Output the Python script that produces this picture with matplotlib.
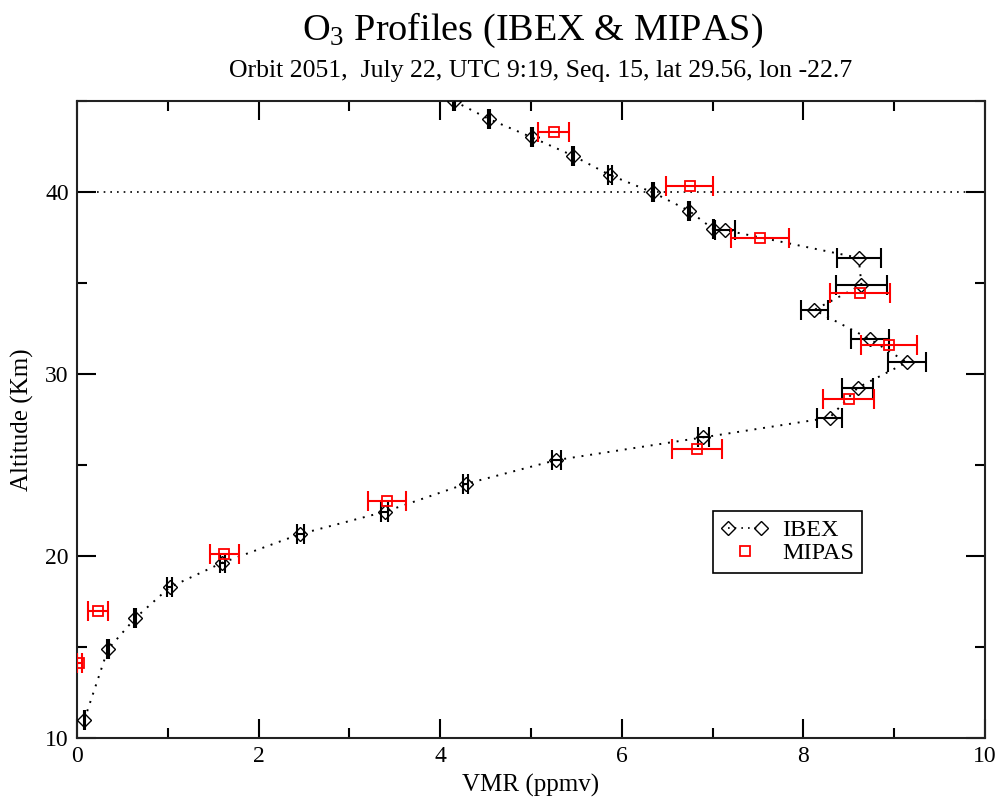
import matplotlib
matplotlib.use("Agg")
import matplotlib.pyplot as plt
from matplotlib.lines import Line2D
from matplotlib.legend_handler import HandlerLine2D

plt.rcParams['font.family'] = ['Liberation Serif', 'DejaVu Serif']
plt.rcParams['mathtext.fontset'] = 'custom'
plt.rcParams['mathtext.rm'] = 'Liberation Serif'
plt.rcParams['mathtext.default'] = 'regular'

# IBEX profile
ibex_vmr = [4.15, 4.54, 5.01, 5.46, 5.87, 6.34, 6.74, 7.01, 7.14, 8.61, 8.64, 8.12, 8.73,
            9.14, 8.60, 8.29, 6.90, 5.28, 4.28, 3.39, 2.46, 1.60, 1.02, 0.64, 0.34, 0.08]
ibex_alt = [45.0, 44.0, 43.0, 42.0, 40.93, 39.98, 38.97, 37.95, 37.9, 36.38, 34.89, 33.52, 31.92,
            30.64, 29.25, 27.6, 26.52, 25.27, 23.96, 22.43, 21.21, 19.63, 18.28, 16.58, 14.87, 10.99]
ibex_err = [0.01, 0.01, 0.01, 0.01, 0.02, 0.01, 0.01, 0.01, 0.11, 0.24, 0.28, 0.15, 0.21,
            0.21, 0.17, 0.14, 0.06, 0.05, 0.03, 0.04, 0.04, 0.03, 0.03, 0.01, 0.01, 0.005]

# MIPAS profile
mipas_vmr = [5.25, 6.75, 7.52, 8.62, 8.94, 8.50, 6.83, 3.41, 1.62, 0.23, 0.025]
mipas_alt = [43.27, 40.33, 37.49, 34.47, 31.59, 28.63, 25.88, 23.04, 20.09, 16.99, 14.1]
mipas_err = [0.17, 0.26, 0.32, 0.33, 0.31, 0.28, 0.275, 0.21, 0.16, 0.11, 0.03]

title = r'O$_3$ Profiles (IBEX & MIPAS)'
subtitle = 'Orbit 2051,  July 22, UTC 9:19, Seq. 15, lat 29.56, lon -22.7'
xlabel = 'VMR (ppmv)'
ylabel = 'Altitude (Km)'

fig = plt.figure(figsize=(10.04, 8.0), dpi=100)
ax = fig.add_axes([0.0767, 0.0775, 0.9043, 0.7963])

ax.axhline(40, color='black', linestyle=(0, (1, 3)), linewidth=1.2, zorder=1)

ax.errorbar(ibex_vmr, ibex_alt, xerr=ibex_err, fmt='none', ecolor='black',
            elinewidth=1.5, capsize=7, capthick=1.5, zorder=2)
ax.plot(ibex_vmr, ibex_alt, color='black', linestyle=(0, (1, 3.5)), linewidth=1.4,
        marker='D', markersize=7.5, markerfacecolor='none', markeredgecolor='black',
        markeredgewidth=1.0, zorder=3)

ax.errorbar(mipas_vmr, mipas_alt, xerr=mipas_err, fmt='none', ecolor='red',
            elinewidth=1.5, capsize=7, capthick=1.5, zorder=4)
ax.plot(mipas_vmr, mipas_alt, linestyle='none', marker='s', markersize=7.5,
        markerfacecolor='none', markeredgecolor='red', markeredgewidth=1.3, zorder=5)

ax.set_xlim(0, 10)
ax.set_ylim(10, 45)
ax.set_xticks([0, 2, 4, 6, 8, 10])
ax.set_xticks([1, 3, 5, 7, 9], minor=True)
ax.set_yticks([10, 20, 30, 40])
ax.set_yticks([15, 25, 35, 45], minor=True)
ax.tick_params(which='both', direction='in', top=True, right=True, width=1.5,
               labelsize=17, pad=6)
ax.tick_params(which='major', length=14)
ax.tick_params(which='minor', length=7)
for s in ax.spines.values():
    s.set_linewidth(1.5)
    s.set_color('#222222')

ax.set_xlabel(xlabel, fontsize=18, labelpad=5)
ax.set_ylabel(ylabel, fontsize=18, labelpad=8)

fig.text(0.53, 0.962, title, ha='center', va='center', fontsize=27.5)
fig.text(0.538, 0.911, subtitle, ha='center', va='center', fontsize=18.5)

h_ibex = Line2D([], [], color='black', linestyle=(0, (1, 3)), linewidth=1.2, marker='D',
                markersize=7, markerfacecolor='none', markeredgecolor='black')
h_mipas = Line2D([], [], linestyle='none', marker='s', markersize=7.5,
                 markerfacecolor='none', markeredgecolor='red', markeredgewidth=1.3)
leg = ax.legend([h_ibex, h_mipas], ['IBEX', 'MIPAS'], loc='upper left',
                bbox_to_anchor=(0.700, 0.357), borderaxespad=0, fontsize=17.5,
                frameon=True, fancybox=False,
                edgecolor='black', framealpha=1, borderpad=0.35, labelspacing=0.05,
                handlelength=1.95, handletextpad=0.55,
                handler_map={h_ibex: HandlerLine2D(numpoints=2),
                             h_mipas: HandlerLine2D(numpoints=1)})
leg.get_frame().set_linewidth(1.2)

fig.savefig('out.png', dpi=100)
